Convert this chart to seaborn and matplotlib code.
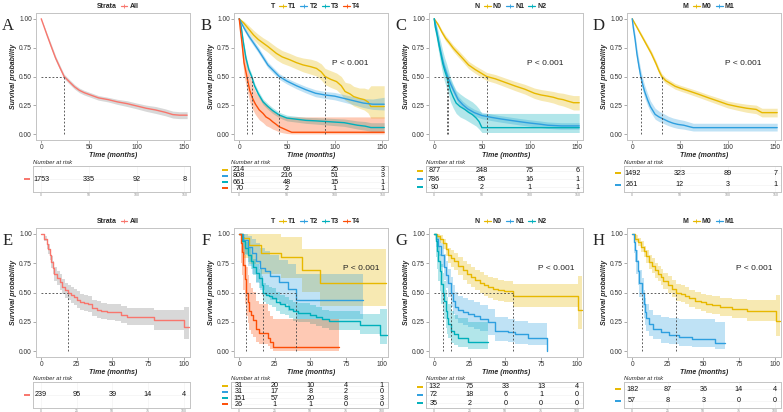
import numpy as np
import matplotlib
matplotlib.use("Agg")
import matplotlib.pyplot as plt
import matplotlib.transforms as mtransforms
from matplotlib.lines import Line2D
import seaborn as sns

# ---------------- data ----------------
TOP_TIMES = [0, 50, 100, 150]
BOTTOM_TIMES = [0, 25, 50, 75, 100]

# A: whole cohort (top)
A_ALL_T = [0, 3, 6, 10, 15, 20, 24, 30, 35, 40, 45, 50, 60, 70, 80, 90, 100, 110, 120, 130, 138, 145, 153]
A_ALL_S = [1.0, 0.93, 0.86, 0.77, 0.66, 0.57, 0.50, 0.45, 0.41, 0.38, 0.36, 0.345, 0.315, 0.30, 0.28, 0.265, 0.245, 0.225, 0.21, 0.19, 0.17, 0.165, 0.165]
A_ALL_LO = [1.0, 0.92, 0.845, 0.75, 0.64, 0.55, 0.48, 0.43, 0.39, 0.36, 0.34, 0.325, 0.295, 0.28, 0.258, 0.24, 0.22, 0.198, 0.18, 0.16, 0.14, 0.135, 0.135]
A_ALL_HI = [1.0, 0.94, 0.875, 0.79, 0.68, 0.59, 0.52, 0.47, 0.43, 0.40, 0.38, 0.365, 0.335, 0.32, 0.302, 0.29, 0.27, 0.252, 0.24, 0.22, 0.20, 0.195, 0.195]
A_ALL_RISK = [1753, 335, 92, 8]

# B: T stage (top)
B_T1_T = [0, 5, 10, 15, 20, 25, 30, 39, 45, 53, 60, 67, 75, 81, 86, 90, 96, 102, 107, 111, 116, 120, 126, 131, 135, 138, 145, 152]
B_T1_S = [1.0, 0.96, 0.91, 0.86, 0.82, 0.79, 0.76, 0.70, 0.67, 0.645, 0.62, 0.60, 0.585, 0.57, 0.54, 0.50, 0.475, 0.456, 0.42, 0.37, 0.35, 0.326, 0.31, 0.30, 0.28, 0.24, 0.24, 0.24]
B_T1_LO = [1.0, 0.935, 0.875, 0.82, 0.775, 0.74, 0.71, 0.645, 0.615, 0.59, 0.565, 0.54, 0.52, 0.505, 0.47, 0.43, 0.405, 0.385, 0.345, 0.295, 0.27, 0.245, 0.225, 0.21, 0.185, 0.14, 0.14, 0.14]
B_T1_HI = [1.0, 0.98, 0.94, 0.90, 0.865, 0.835, 0.81, 0.755, 0.725, 0.70, 0.675, 0.66, 0.65, 0.635, 0.61, 0.57, 0.55, 0.53, 0.50, 0.45, 0.44, 0.415, 0.40, 0.40, 0.39, 0.42, 0.42, 0.42]
B_T1_RISK = [214, 69, 25, 3]
B_T2_T = [0, 5, 10, 15, 20, 25, 30, 36, 42, 50, 60, 70, 80, 90, 100, 110, 120, 130, 140, 152]
B_T2_S = [1.0, 0.92, 0.85, 0.79, 0.73, 0.665, 0.60, 0.55, 0.50, 0.46, 0.42, 0.385, 0.355, 0.34, 0.33, 0.31, 0.29, 0.27, 0.26, 0.26]
B_T2_LO = [1.0, 0.90, 0.825, 0.765, 0.705, 0.64, 0.575, 0.525, 0.475, 0.435, 0.393, 0.357, 0.325, 0.31, 0.298, 0.277, 0.255, 0.232, 0.215, 0.21]
B_T2_HI = [1.0, 0.94, 0.875, 0.815, 0.755, 0.69, 0.625, 0.575, 0.525, 0.485, 0.447, 0.413, 0.385, 0.37, 0.362, 0.343, 0.325, 0.308, 0.305, 0.32]
B_T2_RISK = [808, 216, 51, 3]
B_T3_T = [0, 2, 4, 7, 10, 13, 16, 20, 25, 30, 35, 42, 50, 60, 70, 80, 95, 110, 124, 132, 138, 152]
B_T3_S = [1.0, 0.93, 0.81, 0.66, 0.56, 0.50, 0.42, 0.35, 0.28, 0.24, 0.205, 0.166, 0.14, 0.13, 0.12, 0.116, 0.108, 0.10, 0.078, 0.07, 0.058, 0.058]
B_T3_LO = [1.0, 0.91, 0.785, 0.635, 0.535, 0.475, 0.395, 0.325, 0.255, 0.215, 0.18, 0.142, 0.115, 0.105, 0.094, 0.088, 0.078, 0.068, 0.045, 0.035, 0.025, 0.025]
B_T3_HI = [1.0, 0.95, 0.835, 0.685, 0.585, 0.525, 0.445, 0.375, 0.305, 0.265, 0.23, 0.19, 0.165, 0.155, 0.146, 0.144, 0.138, 0.132, 0.115, 0.11, 0.10, 0.10]
B_T3_RISK = [661, 48, 15, 1]
B_T4_T = [0, 1, 3, 5, 8, 11, 14, 17, 21, 25, 28, 32, 35, 38, 42, 46, 50, 55, 152]
B_T4_S = [1.0, 0.92, 0.78, 0.62, 0.50, 0.38, 0.31, 0.26, 0.21, 0.18, 0.15, 0.13, 0.108, 0.09, 0.064, 0.05, 0.035, 0.017, 0.017]
B_T4_LO = [1.0, 0.86, 0.69, 0.51, 0.39, 0.28, 0.215, 0.17, 0.125, 0.10, 0.075, 0.06, 0.045, 0.035, 0.02, 0.012, 0.006, 0.003, 0.003]
B_T4_HI = [1.0, 0.98, 0.88, 0.74, 0.63, 0.51, 0.43, 0.37, 0.32, 0.29, 0.26, 0.235, 0.21, 0.19, 0.165, 0.155, 0.15, 0.15, 0.15]
B_T4_RISK = [70, 2, 1, 1]

# C: N stage (top)
C_N0_T = [0, 4, 8, 12, 15, 20, 25, 30, 36, 43, 50, 55, 64, 74, 85, 95, 105, 112, 119, 125, 130, 135, 140, 146, 152]
C_N0_S = [1.0, 0.95, 0.885, 0.83, 0.80, 0.745, 0.70, 0.655, 0.60, 0.56, 0.525, 0.50, 0.48, 0.45, 0.417, 0.39, 0.355, 0.34, 0.33, 0.32, 0.307, 0.30, 0.287, 0.273, 0.273]
C_N0_LO = [1.0, 0.935, 0.865, 0.805, 0.775, 0.718, 0.67, 0.625, 0.568, 0.527, 0.49, 0.465, 0.443, 0.412, 0.377, 0.348, 0.31, 0.293, 0.282, 0.27, 0.255, 0.245, 0.23, 0.21, 0.21]
C_N0_HI = [1.0, 0.965, 0.905, 0.855, 0.825, 0.772, 0.73, 0.685, 0.632, 0.593, 0.56, 0.535, 0.517, 0.488, 0.457, 0.432, 0.40, 0.387, 0.378, 0.37, 0.36, 0.355, 0.345, 0.335, 0.335]
C_N0_RISK = [877, 248, 75, 6]
C_N1_T = [0, 2, 4, 6, 8, 10, 12, 14, 17, 20, 25, 30, 35, 42, 50, 60, 70, 80, 90, 100, 110, 119, 133, 152]
C_N1_S = [1.0, 0.92, 0.83, 0.745, 0.67, 0.60, 0.55, 0.50, 0.44, 0.385, 0.30, 0.255, 0.22, 0.187, 0.162, 0.146, 0.132, 0.12, 0.108, 0.097, 0.088, 0.078, 0.072, 0.072]
C_N1_LO = [1.0, 0.90, 0.805, 0.715, 0.64, 0.568, 0.518, 0.467, 0.408, 0.352, 0.27, 0.225, 0.19, 0.158, 0.134, 0.118, 0.104, 0.092, 0.08, 0.07, 0.06, 0.05, 0.044, 0.044]
C_N1_HI = [1.0, 0.94, 0.855, 0.775, 0.70, 0.632, 0.582, 0.533, 0.472, 0.418, 0.33, 0.285, 0.25, 0.216, 0.19, 0.174, 0.16, 0.148, 0.136, 0.125, 0.116, 0.106, 0.10, 0.10]
C_N1_RISK = [786, 85, 16, 1]
C_N2_T = [0, 1, 3, 5, 7, 9, 11, 13, 15, 17, 20, 23, 27, 32, 36, 40, 44, 47, 50, 152]
C_N2_S = [1.0, 0.93, 0.86, 0.77, 0.69, 0.61, 0.55, 0.50, 0.44, 0.38, 0.32, 0.27, 0.24, 0.215, 0.19, 0.17, 0.14, 0.11, 0.057, 0.057]
C_N2_LO = [1.0, 0.88, 0.79, 0.69, 0.60, 0.515, 0.45, 0.40, 0.34, 0.28, 0.225, 0.18, 0.15, 0.13, 0.11, 0.09, 0.07, 0.045, 0.015, 0.015]
C_N2_HI = [1.0, 0.98, 0.93, 0.86, 0.79, 0.72, 0.66, 0.61, 0.55, 0.49, 0.43, 0.38, 0.35, 0.32, 0.30, 0.28, 0.25, 0.22, 0.18, 0.18]
C_N2_RISK = [90, 2, 1, 1]

# D: M stage (top)
D_M0_T = [0, 5, 10, 15, 20, 25, 28, 31, 35, 40, 45, 50, 60, 70, 80, 90, 100, 110, 120, 130, 136, 152]
D_M0_S = [1.0, 0.925, 0.85, 0.775, 0.70, 0.61, 0.55, 0.50, 0.465, 0.44, 0.415, 0.40, 0.373, 0.345, 0.315, 0.287, 0.258, 0.24, 0.225, 0.215, 0.187, 0.187]
D_M0_LO = [1.0, 0.91, 0.832, 0.755, 0.677, 0.585, 0.525, 0.475, 0.44, 0.415, 0.39, 0.375, 0.347, 0.318, 0.288, 0.258, 0.228, 0.208, 0.19, 0.178, 0.15, 0.15]
D_M0_HI = [1.0, 0.94, 0.868, 0.795, 0.723, 0.635, 0.575, 0.525, 0.49, 0.465, 0.44, 0.425, 0.399, 0.372, 0.342, 0.316, 0.288, 0.272, 0.26, 0.252, 0.225, 0.225]
D_M0_RISK = [1492, 323, 89, 7]
D_M1_T = [0, 1, 3, 5, 7, 9, 11, 13, 16, 19, 24, 28, 33, 38, 43, 48, 54, 60, 64, 152]
D_M1_S = [1.0, 0.93, 0.82, 0.69, 0.59, 0.50, 0.43, 0.37, 0.30, 0.24, 0.172, 0.15, 0.13, 0.11, 0.095, 0.085, 0.078, 0.065, 0.057, 0.057]
D_M1_LO = [1.0, 0.90, 0.775, 0.64, 0.535, 0.445, 0.375, 0.315, 0.25, 0.195, 0.13, 0.11, 0.092, 0.074, 0.06, 0.05, 0.044, 0.034, 0.028, 0.028]
D_M1_HI = [1.0, 0.96, 0.865, 0.74, 0.645, 0.555, 0.485, 0.425, 0.355, 0.29, 0.225, 0.20, 0.178, 0.155, 0.14, 0.13, 0.12, 0.105, 0.095, 0.095]
D_M1_RISK = [261, 12, 3, 1]

# E: whole cohort (bottom)
E_ALL_T = [0, 2, 4, 5, 6, 7, 8, 9, 11, 13, 15, 17, 19, 21, 23, 25, 27, 30, 33, 36, 39, 42, 46, 52, 56, 60, 79, 100, 104]
E_ALL_S = [1.0, 0.96, 0.91, 0.87, 0.82, 0.76, 0.71, 0.66, 0.62, 0.59, 0.55, 0.52, 0.50, 0.48, 0.46, 0.44, 0.42, 0.41, 0.40, 0.37, 0.355, 0.34, 0.335, 0.33, 0.31, 0.295, 0.266, 0.203, 0.203]
E_ALL_LO = [1.0, 0.935, 0.875, 0.83, 0.775, 0.71, 0.655, 0.60, 0.56, 0.525, 0.485, 0.455, 0.432, 0.41, 0.39, 0.37, 0.35, 0.34, 0.33, 0.30, 0.285, 0.272, 0.266, 0.256, 0.236, 0.222, 0.18, 0.105, 0.105]
E_ALL_HI = [1.0, 0.985, 0.945, 0.91, 0.865, 0.81, 0.765, 0.72, 0.68, 0.655, 0.615, 0.585, 0.568, 0.55, 0.53, 0.51, 0.49, 0.48, 0.47, 0.44, 0.425, 0.41, 0.405, 0.40, 0.385, 0.37, 0.35, 0.38, 0.38]
E_ALL_RISK = [239, 95, 39, 14, 4]

# F: T stage (bottom)
F_T1_T = [0, 3, 7, 15.5, 29.5, 44, 57, 103]
F_T1_S = [1.0, 0.967, 0.903, 0.838, 0.80, 0.69, 0.585, 0.585]
F_T1_LO = [1.0, 0.79, 0.74, 0.66, 0.62, 0.50, 0.385, 0.385]
F_T1_HI = [1.0, 1.0, 1.0, 1.0, 0.97, 0.875, 0.875, 0.875]
F_T1_RISK = [31, 20, 10, 4, 1]
F_T2_T = [0, 3, 6, 9, 12, 15, 18, 22, 28, 34, 40, 87]
F_T2_S = [1.0, 0.95, 0.89, 0.84, 0.77, 0.71, 0.68, 0.64, 0.59, 0.53, 0.435, 0.435]
F_T2_LO = [1.0, 0.82, 0.73, 0.66, 0.58, 0.52, 0.48, 0.44, 0.40, 0.34, 0.27, 0.27]
F_T2_HI = [1.0, 1.0, 0.98, 0.96, 0.92, 0.88, 0.85, 0.82, 0.78, 0.74, 0.66, 0.66]
F_T2_RISK = [31, 17, 8, 2, 0]
F_T3_T = [0, 2, 4, 6, 8, 10, 12, 14, 16, 17, 19, 21, 23, 26, 29, 32, 35, 38, 41, 50, 54, 58, 63, 84.5, 99, 104]
F_T3_S = [1.0, 0.94, 0.88, 0.82, 0.77, 0.72, 0.67, 0.62, 0.56, 0.50, 0.48, 0.47, 0.455, 0.42, 0.40, 0.385, 0.36, 0.34, 0.327, 0.31, 0.29, 0.27, 0.254, 0.225, 0.14, 0.14]
F_T3_LO = [1.0, 0.90, 0.83, 0.76, 0.70, 0.65, 0.59, 0.54, 0.48, 0.42, 0.40, 0.39, 0.375, 0.34, 0.32, 0.305, 0.28, 0.26, 0.25, 0.235, 0.215, 0.195, 0.18, 0.145, 0.06, 0.06]
F_T3_HI = [1.0, 0.975, 0.93, 0.88, 0.83, 0.785, 0.74, 0.70, 0.64, 0.58, 0.56, 0.55, 0.535, 0.50, 0.48, 0.465, 0.44, 0.42, 0.41, 0.395, 0.375, 0.355, 0.34, 0.32, 0.36, 0.36]
F_T3_RISK = [151, 57, 20, 8, 3]
F_T4_T = [0, 1, 2, 3, 4, 5, 6, 7, 8, 10, 12, 14, 20, 22, 24, 70]
F_T4_S = [1.0, 0.923, 0.846, 0.731, 0.615, 0.50, 0.423, 0.346, 0.308, 0.269, 0.192, 0.154, 0.115, 0.077, 0.038, 0.038]
F_T4_LO = [1.0, 0.75, 0.65, 0.52, 0.40, 0.30, 0.24, 0.18, 0.15, 0.12, 0.08, 0.06, 0.04, 0.02, 0.005, 0.005]
F_T4_HI = [1.0, 1.0, 0.98, 0.90, 0.82, 0.72, 0.65, 0.58, 0.54, 0.50, 0.43, 0.40, 0.34, 0.30, 0.27, 0.27]
F_T4_RISK = [26, 1, 1, 0, 0]

# G: N stage (bottom)
G_N0_T = [0, 2, 4, 6, 8, 10, 12, 14, 17, 20, 23, 26, 29, 32, 35, 38, 41, 45, 49, 55.5, 101, 104]
G_N0_S = [1.0, 0.985, 0.96, 0.92, 0.87, 0.82, 0.795, 0.765, 0.73, 0.69, 0.66, 0.635, 0.61, 0.585, 0.56, 0.545, 0.53, 0.52, 0.51, 0.47, 0.355, 0.355]
G_N0_LO = [1.0, 0.96, 0.92, 0.87, 0.81, 0.75, 0.72, 0.69, 0.65, 0.61, 0.575, 0.55, 0.52, 0.495, 0.47, 0.455, 0.44, 0.43, 0.42, 0.375, 0.19, 0.19]
G_N0_HI = [1.0, 1.0, 0.99, 0.96, 0.92, 0.88, 0.86, 0.835, 0.80, 0.77, 0.74, 0.72, 0.695, 0.675, 0.65, 0.635, 0.62, 0.61, 0.60, 0.575, 0.64, 0.64]
G_N0_RISK = [132, 75, 33, 13, 4]
G_N1_T = [0, 1, 3, 5, 7, 8, 10, 11.5, 13, 15, 17, 20, 24, 28, 32, 38, 42.6, 52, 57, 66, 79]
G_N1_S = [1.0, 0.96, 0.90, 0.82, 0.72, 0.65, 0.58, 0.50, 0.43, 0.38, 0.347, 0.33, 0.318, 0.30, 0.275, 0.246, 0.175, 0.16, 0.146, 0.11, 0.0]
G_N1_LO = [1.0, 0.89, 0.81, 0.72, 0.61, 0.54, 0.46, 0.38, 0.32, 0.27, 0.24, 0.225, 0.21, 0.19, 0.17, 0.14, 0.09, 0.075, 0.065, 0.05, 0.0]
G_N1_HI = [1.0, 1.0, 0.97, 0.92, 0.83, 0.77, 0.70, 0.63, 0.56, 0.50, 0.47, 0.45, 0.44, 0.42, 0.39, 0.36, 0.29, 0.275, 0.26, 0.24, 0.0]
G_N1_RISK = [72, 18, 6, 1, 0]
G_N2_T = [0, 1, 2, 3, 4, 5, 6, 7, 8, 9, 10, 12, 14, 17, 24, 38]
G_N2_S = [1.0, 0.943, 0.857, 0.771, 0.686, 0.571, 0.50, 0.429, 0.343, 0.286, 0.229, 0.171, 0.143, 0.114, 0.08, 0.08]
G_N2_LO = [1.0, 0.80, 0.70, 0.60, 0.51, 0.40, 0.33, 0.27, 0.20, 0.15, 0.11, 0.07, 0.05, 0.035, 0.02, 0.02]
G_N2_HI = [1.0, 1.0, 0.96, 0.90, 0.83, 0.74, 0.67, 0.60, 0.52, 0.46, 0.40, 0.34, 0.31, 0.28, 0.25, 0.25]
G_N2_RISK = [35, 2, 0, 0, 0]

# H: M stage (bottom)
H_M0_T = [0, 2, 4, 6, 8, 10, 12, 14, 16, 18, 20, 22, 25, 28, 31, 34, 37, 40, 44, 48, 52, 56, 62, 70, 80.7, 100.7, 104]
H_M0_S = [1.0, 0.96, 0.93, 0.89, 0.85, 0.81, 0.76, 0.73, 0.69, 0.66, 0.63, 0.60, 0.565, 0.53, 0.50, 0.485, 0.47, 0.45, 0.43, 0.415, 0.40, 0.39, 0.375, 0.36, 0.338, 0.26, 0.26]
H_M0_LO = [1.0, 0.93, 0.895, 0.845, 0.80, 0.755, 0.70, 0.67, 0.625, 0.595, 0.56, 0.53, 0.495, 0.46, 0.43, 0.415, 0.40, 0.38, 0.36, 0.34, 0.325, 0.315, 0.30, 0.28, 0.255, 0.13, 0.13]
H_M0_HI = [1.0, 0.99, 0.965, 0.935, 0.90, 0.86, 0.82, 0.79, 0.755, 0.73, 0.70, 0.67, 0.64, 0.605, 0.575, 0.56, 0.545, 0.525, 0.505, 0.49, 0.48, 0.47, 0.455, 0.445, 0.435, 0.48, 0.48]
H_M0_RISK = [182, 87, 36, 14, 4]
H_M1_T = [0, 1, 2, 3, 4, 5, 7, 8, 9, 10, 12, 15, 20, 26, 33, 42, 58, 65]
H_M1_S = [1.0, 0.93, 0.86, 0.77, 0.68, 0.58, 0.50, 0.40, 0.33, 0.28, 0.23, 0.19, 0.16, 0.14, 0.12, 0.10, 0.07, 0.07]
H_M1_LO = [1.0, 0.84, 0.76, 0.66, 0.56, 0.46, 0.37, 0.28, 0.22, 0.17, 0.13, 0.10, 0.07, 0.06, 0.045, 0.035, 0.02, 0.02]
H_M1_HI = [1.0, 0.98, 0.93, 0.86, 0.78, 0.69, 0.62, 0.52, 0.45, 0.40, 0.35, 0.31, 0.29, 0.28, 0.275, 0.27, 0.25, 0.25]
H_M1_RISK = [57, 8, 3, 0, 0]

PVALUE = "P < 0.001"

# ---------------- styling ----------------
GOLD, BLUE, TEAL, RED, SALMON = "#E7B800", "#2E9FDF", "#00AFBB", "#FC4E07", "#F8766D"

sns.set_theme(style="white")
plt.rcParams["font.family"] = ["Liberation Sans", "DejaVu Sans"]

W, H = 783, 412
fig = plt.figure(figsize=(W / 100, H / 100), dpi=100)

COL_LEFT = [36, 234, 429, 627]


def rect(left, top, width, height):
    return [left / W, 1 - (top + height) / H, width / W, height / H]


def km_panel(col, row, letter, strata_title, curves, risk_times, pval_xy):
    top = row == 0
    left = COL_LEFT[col]
    ax = fig.add_axes(rect(left, 13 if top else 228, 154, 127 if top else 129))
    rax = fig.add_axes(rect(left - 3, 166 if top else 382, 157, 26))
    xlim = (-5.5, 156) if top else (-3.6, 104.5)
    rxlim = (-8.6, 156) if top else (-5.7, 104.5)
    steps = not top

    for name, color, band, t, s, lo, hi, risk in curves:
        ax.fill_between(t, lo, hi, step="post" if steps else None,
                        color=band, alpha=0.3, lw=0)
    for name, color, band, t, s, lo, hi, risk in curves:
        sns.lineplot(x=t, y=s, ax=ax, color=color, lw=1.0, estimator=None,
                     legend=False, drawstyle="steps-post" if steps else "default")

    # median survival guide lines
    meds = []
    for name, color, band, t, s, lo, hi, risk in curves:
        below = np.nonzero(np.asarray(s) <= 0.5)[0]
        if below.size:
            meds.append(t[below[0]])
    dash = dict(color="#444444", lw=0.6, ls=(0, (2.2, 2.2)))
    if meds:
        ax.plot([0, max(meds)], [0.5, 0.5], **dash)
        for m in meds:
            ax.plot([m, m], [0, 0.5], **dash)

    if pval_xy is not None:
        ax.text(pval_xy[0], pval_xy[1], PVALUE, ha="center", va="center",
                fontsize=6, color="#222222")

    ax.set_xlim(xlim)
    ax.set_ylim(-0.05, 1.05)
    ax.set_xticks(risk_times)
    ax.set_yticks([0, 0.25, 0.5, 0.75, 1.0])
    ax.set_yticklabels(["0.00", "0.25", "0.50", "0.75", "1.00"])
    ax.tick_params(labelsize=4.8, labelcolor="#333333", color="#888888",
                   length=2, width=0.5, pad=1, left=True, bottom=True)
    ax.set_xlabel("Time (months)", fontsize=5, fontweight="bold",
                  fontstyle="italic", labelpad=0.5)
    ax.set_ylabel("Survival probability", fontsize=5, fontweight="bold",
                  fontstyle="italic", labelpad=1.5)
    for sp in ax.spines.values():
        sp.set_color("#C4C4C4")
        sp.set_linewidth(0.7)

    handles = [Line2D([], [], lw=0)]
    labels = [strata_title]
    for name, color, band, t, s, lo, hi, risk in curves:
        handles.append(Line2D([], [], color=color, lw=0.9, marker="+",
                              ms=3, mew=0.6))
        labels.append(name)
    ax.legend(handles, labels, loc="lower center", bbox_to_anchor=(0.5, 1.0),
              ncol=len(labels), frameon=False, handlelength=1.0,
              handletextpad=0.3, columnspacing=0.6, borderaxespad=0.3,
              borderpad=0.1, prop={"size": 5, "weight": "bold"})

    # risk table
    n = len(curves)
    trans = mtransforms.blended_transform_factory(rax.transAxes, rax.transData)
    for i, (name, color, band, t, s, lo, hi, risk) in enumerate(curves):
        yv = n - i
        for tt, cnt in zip(risk_times, risk):
            rax.text(tt, yv, str(cnt), ha="center", va="center",
                     fontsize=5.2, color="#111111")
        rax.plot([-0.058, -0.022], [yv, yv], transform=trans, color=color,
                 lw=1.4, clip_on=False, solid_capstyle="butt")
    rax.set_xlim(rxlim)
    rax.set_ylim(0.4, n + 0.6)
    rax.set_xticks(risk_times)
    rax.set_yticks(range(1, n + 1))
    rax.set_yticklabels([])
    rax.grid(True, color="#EFEFEF", lw=0.4)
    rax.tick_params(axis="both", length=0, labelsize=2.5,
                    labelcolor="#8C8C8C", pad=1)
    rax.set_title("Number at risk", loc="left", fontsize=4.3,
                  fontstyle="italic", pad=1.5)
    for sp in rax.spines.values():
        sp.set_color("#C4C4C4")
        sp.set_linewidth(0.7)

    fig.text((left - 28) / W, 1 - (25.5 if top else 241) / H, letter,
             fontsize=12, family="Liberation Serif", ha="center", va="center")


TOP_P = (116, 0.61)
BOT_P = (86, 0.705)

km_panel(0, 0, "A", "Strata",
         [("All", SALMON, "grey", A_ALL_T, A_ALL_S, A_ALL_LO, A_ALL_HI, A_ALL_RISK)],
         TOP_TIMES, None)
km_panel(1, 0, "B", "T",
         [("T1", GOLD, GOLD, B_T1_T, B_T1_S, B_T1_LO, B_T1_HI, B_T1_RISK),
          ("T2", BLUE, BLUE, B_T2_T, B_T2_S, B_T2_LO, B_T2_HI, B_T2_RISK),
          ("T3", TEAL, TEAL, B_T3_T, B_T3_S, B_T3_LO, B_T3_HI, B_T3_RISK),
          ("T4", RED, RED, B_T4_T, B_T4_S, B_T4_LO, B_T4_HI, B_T4_RISK)],
         TOP_TIMES, TOP_P)
km_panel(2, 0, "C", "N",
         [("N0", GOLD, GOLD, C_N0_T, C_N0_S, C_N0_LO, C_N0_HI, C_N0_RISK),
          ("N1", BLUE, BLUE, C_N1_T, C_N1_S, C_N1_LO, C_N1_HI, C_N1_RISK),
          ("N2", TEAL, TEAL, C_N2_T, C_N2_S, C_N2_LO, C_N2_HI, C_N2_RISK)],
         TOP_TIMES, TOP_P)
km_panel(3, 0, "D", "M",
         [("M0", GOLD, GOLD, D_M0_T, D_M0_S, D_M0_LO, D_M0_HI, D_M0_RISK),
          ("M1", BLUE, BLUE, D_M1_T, D_M1_S, D_M1_LO, D_M1_HI, D_M1_RISK)],
         TOP_TIMES, TOP_P)
km_panel(0, 1, "E", "Strata",
         [("All", SALMON, "grey", E_ALL_T, E_ALL_S, E_ALL_LO, E_ALL_HI, E_ALL_RISK)],
         BOTTOM_TIMES, None)
km_panel(1, 1, "F", "T",
         [("T1", GOLD, GOLD, F_T1_T, F_T1_S, F_T1_LO, F_T1_HI, F_T1_RISK),
          ("T2", BLUE, BLUE, F_T2_T, F_T2_S, F_T2_LO, F_T2_HI, F_T2_RISK),
          ("T3", TEAL, TEAL, F_T3_T, F_T3_S, F_T3_LO, F_T3_HI, F_T3_RISK),
          ("T4", RED, RED, F_T4_T, F_T4_S, F_T4_LO, F_T4_HI, F_T4_RISK)],
         BOTTOM_TIMES, BOT_P)
km_panel(2, 1, "G", "N",
         [("N0", GOLD, GOLD, G_N0_T, G_N0_S, G_N0_LO, G_N0_HI, G_N0_RISK),
          ("N1", BLUE, BLUE, G_N1_T, G_N1_S, G_N1_LO, G_N1_HI, G_N1_RISK),
          ("N2", TEAL, TEAL, G_N2_T, G_N2_S, G_N2_LO, G_N2_HI, G_N2_RISK)],
         BOTTOM_TIMES, BOT_P)
km_panel(3, 1, "H", "M",
         [("M0", GOLD, GOLD, H_M0_T, H_M0_S, H_M0_LO, H_M0_HI, H_M0_RISK),
          ("M1", BLUE, BLUE, H_M1_T, H_M1_S, H_M1_LO, H_M1_HI, H_M1_RISK)],
         BOTTOM_TIMES, BOT_P)

fig.savefig("out.png", dpi=100)
